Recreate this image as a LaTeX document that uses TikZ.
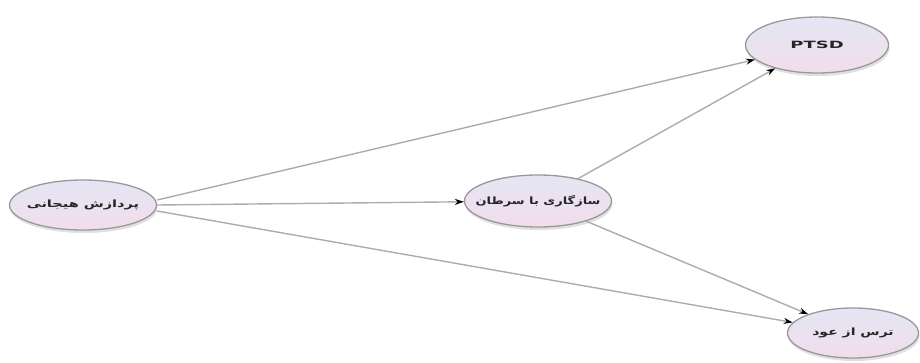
\documentclass[tikz,border=0pt]{standalone}
\usepackage{fontspec}
\usepackage{graphicx}
\setmainfont{DejaVu Sans}
\newfontfamily\arabicfont[Script=Arabic]{DejaVu Sans}
\TeXXeTstate=1
\usetikzlibrary{arrows.meta,shadows,shapes.geometric}
\definecolor{topc}{HTML}{E4E6F4}
\definecolor{botc}{HTML}{F2DDEC}
\newcommand{\wide}[2]{\scalebox{#1}[1]{#2}}
\begin{document}
\begin{tikzpicture}[x=1pt,y=-1pt,
  ell/.style={ellipse,draw=gray!80,line width=1.3pt,top color=topc,bottom color=botc,
    minimum width=#1,inner sep=0pt,
    drop shadow={shadow xshift=1pt,shadow yshift=-3pt,fill=gray!40,opacity=0.6}},
  lbl/.style={font=\arabicfont\fontsize{10}{11}\selectfont\bfseries,text=black!85},
  conn/.style={draw=gray!65,line width=1.4pt,-{Stealth[length=9pt,width=6pt,color=black]}}
]
\useasboundingbox (0,0) rectangle (920,362);
\node[ell=147pt,minimum height=50pt,label={[lbl]center:\wide{1.45}{\beginR پردازش هیجانی\endR}}] (l) at (83,205) {};
\node[ell=147pt,minimum height=52pt,label={[lbl]center:\wide{1.3}{\beginR سازگاری با سرطان\endR}}] (m) at (538,201) {};
\node[ell=143pt,minimum height=56pt,label={[lbl,font=\fontsize{10}{11}\selectfont\bfseries]center:\wide{1.8}{PTSD}}] (p) at (817,45) {};
\node[ell=131pt,minimum height=50pt,label={[lbl]center:\wide{1.4}{\beginR ترس از عود\endR}}] (f) at (853,333) {};
\draw[conn] ([yshift=5pt]l.east) -- (p);
\draw[conn] (l.east) -- (m);
\draw[conn] ([yshift=-6pt]l.east) -- (f);
\draw[conn] (m) -- (p);
\draw[conn] (m) -- (f);
\end{tikzpicture}
\end{document}
